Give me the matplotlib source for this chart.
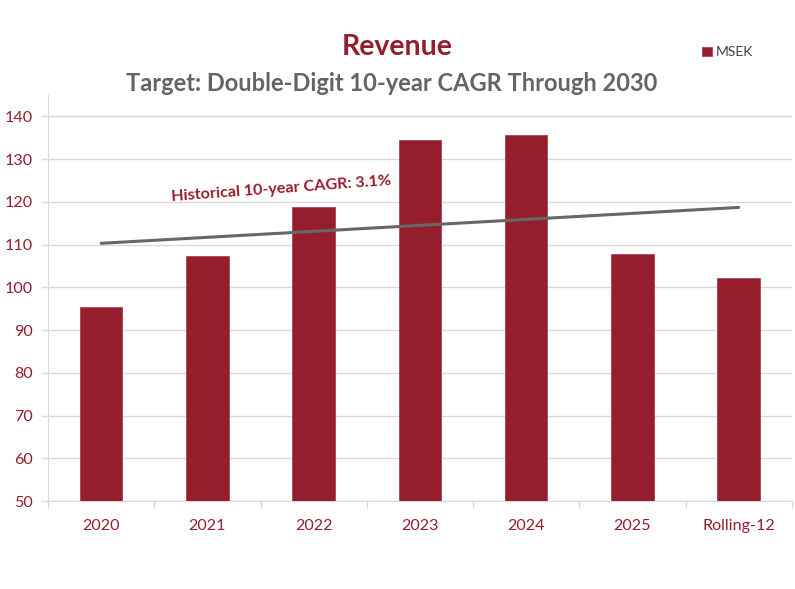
import numpy as np
import matplotlib.pyplot as plt

plt.rcParams['font.family'] = ['Lato', 'DejaVu Sans']

# data
categories = ['2020', '2021', '2022', '2023', '2024', '2025', 'Rolling-12']
revenue = [95.4, 107.3, 118.7, 134.4, 135.6, 107.8, 102.2]
trend_ends = [110.3, 118.7]  # historical CAGR line, first and last category
yticks = [50, 60, 70, 80, 90, 100, 110, 120, 130, 140]

red = '#941E2D'
grey_txt = '#646464'
grid_c = '#D9D9D9'

fig = plt.figure(figsize=(7.95, 5.89), dpi=100)
ax = fig.add_axes([0.0604, 0.1494, 0.9356, 0.6893])

x = np.arange(len(categories))
ax.bar(x, revenue, width=0.4, color=red, edgecolor='#B04050', linewidth=0.6,
       label='MSEK', zorder=3)
ax.plot([x[0], x[-1]], trend_ends, color='#676767', lw=2.2, zorder=4,
        solid_capstyle='round')

ax.set_xlim(-0.5, len(categories) - 0.5)
ax.set_ylim(50, 145)
ax.set_yticks(yticks)
ax.set_xticks(x)
ax.set_xticklabels(categories)
ax.set_xticks(np.arange(len(categories) + 1) - 0.5, minor=True)
ax.tick_params(axis='x', which='major', length=0, pad=13, labelsize=11.6,
               labelcolor=red)
ax.tick_params(axis='x', which='minor', length=5, color=grid_c, width=1)
ax.tick_params(axis='y', length=5, color=grid_c, width=1, labelsize=11.6,
               labelcolor=red, pad=6)
ax.grid(axis='y', color=grid_c, lw=1, zorder=0)
for s in ['top', 'right']:
    ax.spines[s].set_visible(False)
ax.spines['left'].set_color(grid_c)
ax.spines['bottom'].set_color(grid_c)

ax.text(1.7, 123.1, 'Historical 10-year CAGR: 3.1%', color=red,
        fontsize=11.6, fontweight='bold', rotation=4.2, ha='center',
        va='center', zorder=5)

fig.text(0.5, 0.92, 'Revenue', color=red, fontsize=20.5, fontweight='bold',
         ha='center', va='center')
fig.text(0.4925, 0.859, 'Target: Double-Digit 10-year CAGR Through 2030',
         color=grey_txt, fontsize=17, fontweight='bold', ha='center',
         va='center')

ax.legend(loc='center', bbox_to_anchor=(0.915, 0.911),
          bbox_transform=fig.transFigure, frameon=False, fontsize=10,
          handlelength=0.7, handleheight=0.7, handletextpad=0.3,
          labelcolor='#404040')

fig.savefig('out.png', dpi=100)
